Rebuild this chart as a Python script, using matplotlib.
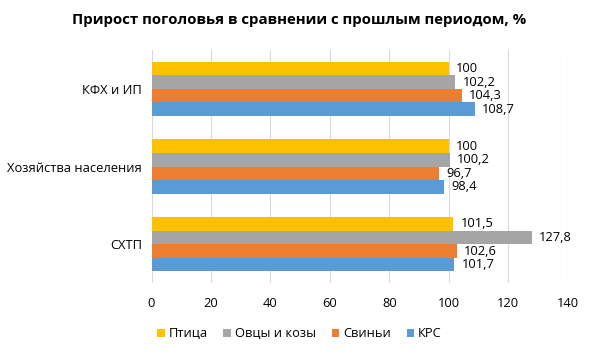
import matplotlib.pyplot as plt
import numpy as np

plt.rcParams['font.family'] = ['Open Sans', 'DejaVu Sans']

categories = ['СХТП', 'Хозяйства населения', 'КФХ и ИП']
series_names = ['КРС', 'Свиньи', 'Овцы и козы', 'Птица']
krs = [101.7, 98.4, 108.7]
svini = [102.6, 96.7, 104.3]
ovcy = [127.8, 100.2, 102.2]
ptica = [101.5, 100, 100]
labels_krs = ['101,7', '98,4', '108,7']
labels_svini = ['102,6', '96,7', '104,3']
labels_ovcy = ['127,8', '100,2', '102,2']
labels_ptica = ['101,5', '100', '100']

colors = ['#5B9BD5', '#ED7D31', '#A5A5A5', '#FFC000']

fig = plt.figure(figsize=(5.99, 3.57), dpi=100)
ax = fig.add_axes([0.253, 0.207, 0.695, 0.653])

y = np.arange(len(categories))
h = 0.175
data = [krs, svini, ovcy, ptica]
labs = [labels_krs, labels_svini, labels_ovcy, labels_ptica]
for i, (vals, name, col, lb) in enumerate(zip(data, series_names, colors, labs)):
    pos = y + (i - 1.5) * h
    bars = ax.barh(pos, vals, height=h, color=col, label=name, zorder=2)
    for p, v, t in zip(pos, vals, lb):
        ax.text(v + 2.5, p, t, va='center', ha='left', fontsize=9.3, color='#000000')

ax.set_xlim(0, 140)
ax.set_ylim(-0.5, 2.5)
ax.set_xticks(range(0, 141, 20))
ax.set_yticks(y)
ax.set_yticklabels(categories)
ax.tick_params(axis='both', length=0, labelsize=9.3, colors='#000000')
ax.tick_params(axis='x', pad=10)
ax.tick_params(axis='y', pad=7)
ax.grid(axis='x', color='#D9D9D9', linewidth=0.8, zorder=0)
for s in ax.spines.values():
    s.set_visible(False)

fig.text(0.5, 0.945, 'Прирост поголовья в сравнении с прошлым периодом, %',
         ha='center', va='center', fontsize=10.8, fontweight='bold')

handles, lbls = ax.get_legend_handles_labels()
fig.legend(handles[::-1], lbls[::-1], loc='center', bbox_to_anchor=(0.5, 0.065),
           ncol=4, frameon=False, fontsize=9.3, handlelength=0.6, handleheight=0.6,
           handletextpad=0.3, columnspacing=1.2)

fig.savefig('out.png', dpi=100)
